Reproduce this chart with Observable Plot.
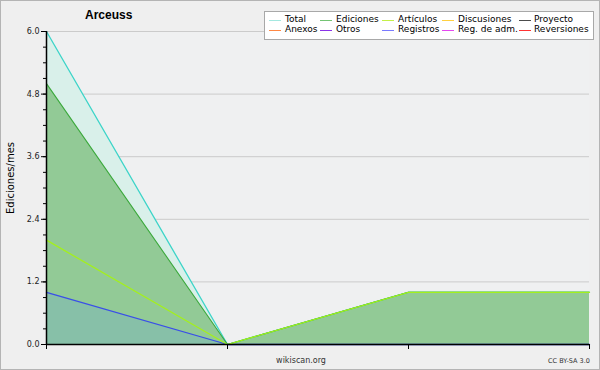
<!DOCTYPE html>
<html><head><meta charset="utf-8">
<script src="https://cdn.jsdelivr.net/npm/d3@7"></script>
<script src="https://cdn.jsdelivr.net/npm/@observablehq/plot@0.6"></script>
<style>
html,body{margin:0;padding:0;background:#efefef;}
#wrap{position:relative;width:600px;height:370px;background:#efefef;overflow:hidden;}
#wrap svg{position:absolute;left:0;top:0;}
#border{position:absolute;left:0;top:0;width:598px;height:368px;border:1px solid #b4b4b4;pointer-events:none;}
.t{position:absolute;white-space:nowrap;font-family:"DejaVu Sans",sans-serif;}
#title{left:85px;top:8px;font:bold 12px "Liberation Sans",Arial,sans-serif;color:#000;}
#ylab{left:10px;top:178px;font-size:10px;color:#000;transform:translate(-50%,-50%) rotate(-90deg);}
#site{left:301px;top:356px;font-size:8px;color:#333;transform:translateX(-50%);}
#cc{left:548px;top:357px;font-size:6.5px;color:#333;}
#legend{position:absolute;left:264px;top:11px;width:328px;height:27px;background:#fff;border:1px solid #a8a8a8;}
.li{position:absolute;font-family:"DejaVu Sans",sans-serif;font-size:9px;color:#000;white-space:nowrap;line-height:10px;}
.sw{position:absolute;height:1px;width:12px;}
</style></head>
<body>
<div id="wrap">
  <div id="chart"></div>
  <div class="t" id="title">Arceuss</div>
  <div class="t" id="ylab">Ediciones/mes</div>
  <div class="t" id="site">wikiscan.org</div>
  <div class="t" id="cc">CC BY-SA 3.0</div>
  <div id="legend"></div>
  <div id="border"></div>
</div>
<script>
// data
const xIndex = [0, 1, 2, 3];
const total = [6, 0, 1, 1];
const ediciones = [5, 0, 1, 1];
const articulos = [2, 0, 1, 1];
const registros = [1, 0, 0, 0];
const yTicks = [0, 1.2, 2.4, 3.6, 4.8, 6.0];
const yMinor = d3.range(0, 21).map(i => +(i * 0.3).toFixed(1));
const legendNames = ["Total", "Ediciones", "Artículos", "Discusiones", "Proyecto",
                     "Anexos", "Otros", "Registros", "Reg. de adm.", "Reversiones"];
const legendColors = ["#a4e8e0", "#74c474", "#c4f048", "#ffd040", "#4c4c4c",
                      "#ff8844", "#8a34e8", "#7a7aff", "#e448f0", "#ff3434"];

const rows = xIndex.map((x, i) => ({x, total: total[i], ediciones: ediciones[i], articulos: articulos[i], registros: registros[i]}));

const chart = Plot.plot({
  width: 600, height: 370,
  marginLeft: 46, marginRight: 11, marginTop: 31, marginBottom: 26,
  style: {background: "transparent", fontFamily: "DejaVu Sans, sans-serif"},
  x: {domain: [0, 3], axis: null},
  y: {domain: [0, 6], axis: null},
  marks: [
    Plot.frame({fill: "#eff0f1", stroke: null}),
    Plot.ruleY(yTicks.slice(1), {stroke: "#cbcbcb", strokeWidth: 1}),
    Plot.areaY(rows, {x: "x", y: "total", fill: "#d9f0ea"}),
    Plot.areaY(rows, {x: "x", y: "ediciones", fill: "#92ca96"}),
    Plot.areaY(rows, {x: "x", y: "registros", fill: "#87c0a8"}),
    Plot.lineY(rows, {x: "x", y: "registros", stroke: "#3a4ee8", strokeWidth: 1.3}),
    Plot.lineY(rows, {x: "x", y: "total", stroke: "#3cd4c8", strokeWidth: 1.3}),
    Plot.lineY(rows, {x: "x", y: "ediciones", stroke: "#3aa83a", strokeWidth: 1.1}),
    Plot.lineY(rows, {x: "x", y: "articulos", stroke: "#a4f01c", strokeWidth: 1.3}),
    Plot.axisY({ticks: yMinor, tickSize: 3, tickFormat: () => "", label: null, stroke: "#000"}),
    Plot.axisY({ticks: yTicks, tickSize: 5, tickPadding: 2, tickFormat: d => d.toFixed(1), label: null, fontSize: 8, fill: "#222", stroke: "#000"}),
    Plot.axisX({ticks: xIndex, tickSize: 5, tickFormat: () => "", label: null, stroke: "#000"}),
    Plot.ruleX([0], {stroke: "#000", strokeWidth: 1.5}),
    Plot.ruleY([0], {stroke: "#000", strokeWidth: 1.5})
  ]
});
document.getElementById("chart").appendChild(chart);

// legend
const lg = document.getElementById("legend");
const colSw = [4, 55, 117, 177, 254];
const colTx = [20, 71, 133, 193, 269];
legendNames.forEach((name, i) => {
  const r = Math.floor(i / 5), c = i % 5;
  const sw = document.createElement("div");
  sw.className = "sw";
  sw.style.left = colSw[c] + "px";
  sw.style.top = (8 + r * 10) + "px";
  sw.style.background = legendColors[i];
  lg.appendChild(sw);
  const t = document.createElement("div");
  t.className = "li";
  t.style.left = colTx[c] + "px";
  t.style.top = (2 + r * 10) + "px";
  t.textContent = name;
  lg.appendChild(t);
});
</script>
</body></html>
